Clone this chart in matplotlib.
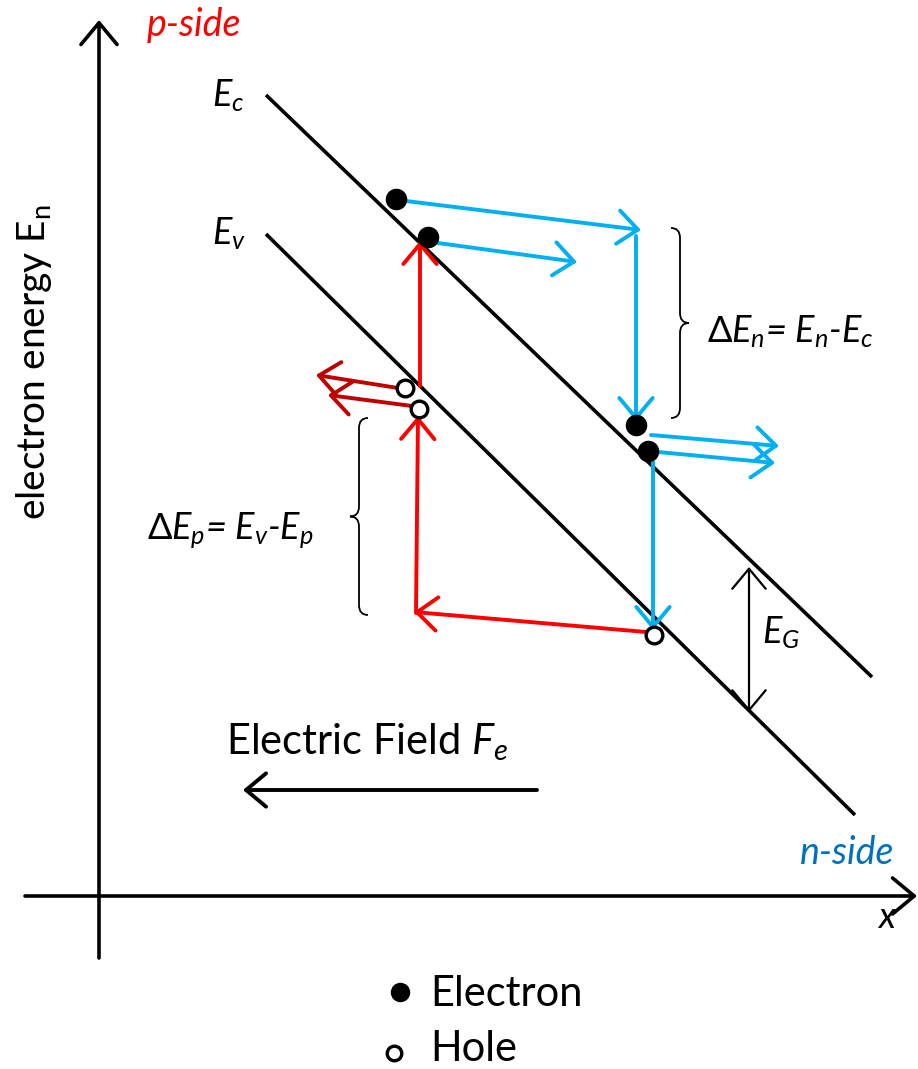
import matplotlib
matplotlib.use('Agg')
import matplotlib.pyplot as plt
from matplotlib.path import Path
from matplotlib.patches import PathPatch

# FONT SETUP
plt.rcParams['font.family'] = ['Lato', 'DejaVu Sans']
plt.rcParams['mathtext.fontset'] = 'custom'
plt.rcParams['mathtext.rm'] = 'Lato'
plt.rcParams['mathtext.it'] = 'Lato:italic'
plt.rcParams['mathtext.sf'] = 'Lato'

# DIAGRAM DATA (pixel coordinates of the band diagram)

band_names = ['Ec', 'Ev']
band_x = [[266, 872], [266, 855]]
band_y = [[95, 677], [234, 815]]

electron_x = [396, 428, 636, 648]
electron_y = [199, 237, 425, 451]
hole_x = [405, 419, 654]
hole_y = [388, 409, 635]

# arrows as (x_start, y_start, x_end, y_end)
blue_arrows = [(406, 201, 641, 230), (438, 243, 577, 262), (636, 236, 636, 421),
               (651, 435, 779, 446), (658, 452, 775, 463), (653, 462, 653, 630)]
red_arrows = [(420, 386, 420, 241), (416, 613, 418, 416), (646, 632, 414, 612)]
darkred_arrows = [(398, 388, 316, 375), (412, 406, 328, 395)]
field_arrow = (537, 790, 243, 790)
gap_arrow = (749, 567, 749, 712)
axis_arrows = [(99, 958, 99, 20), (25, 896, 917, 896)]

# braces as (x_line, y_top, y_bottom, direction)
braces = [(680, 228, 418, 1), (359, 418, 615, -1)]

BLUE = '#00B0F0'
RED = '#FF0000'
DARKRED = '#C00000'

fig = plt.figure(figsize=(9.18, 10.69), dpi=100)
ax = fig.add_axes([0, 0, 1, 1])
ax.set_xlim(0, 918)
ax.set_ylim(1069, 0)
ax.axis('off')


def arrow(a, color, lw, style='->,head_length=0.6,head_width=0.5', ms=24):
    ax.annotate('', xy=(a[2], a[3]), xytext=(a[0], a[1]),
                arrowprops=dict(arrowstyle=style, color=color, lw=lw,
                                shrinkA=0, shrinkB=0, mutation_scale=ms))


def brace(xv, y0, y1, d):
    ym = (y0 + y1) / 2
    r = 10
    c = -9 * d
    t = 9 * d
    verts = [(xv + c, y0), (xv, y0), (xv, y0 + r),
             (xv, ym - r), (xv, ym), (xv + t, ym),
             (xv, ym), (xv, ym + r),
             (xv, y1 - r), (xv, y1), (xv + c, y1)]
    codes = [Path.MOVETO, Path.CURVE3, Path.CURVE3,
             Path.LINETO, Path.CURVE3, Path.CURVE3,
             Path.CURVE3, Path.CURVE3,
             Path.LINETO, Path.CURVE3, Path.CURVE3]
    ax.add_patch(PathPatch(Path(verts, codes), fill=False, lw=1.3, color='black'))


# AXES
for a in axis_arrows:
    arrow(a, 'black', 2.6, ms=26)

# BANDS
for bx, by in zip(band_x, band_y):
    ax.plot(bx, by, color='black', lw=2.6, solid_capstyle='butt')

# ARROWS
for a in blue_arrows:
    arrow(a, BLUE, 2.8)
for a in red_arrows:
    arrow(a, RED, 2.8)
for a in darkred_arrows:
    arrow(a, DARKRED, 2.8)
arrow(field_arrow, 'black', 2.8)
arrow(gap_arrow, 'black', 1.6, style='<->,head_length=0.6,head_width=0.5')

# PARTICLES
ax.plot(electron_x, electron_y, 'o', color='black', ms=14.5, zorder=5)
ax.plot(hole_x, hole_y, 'o', mfc='white', mec='black', mew=2.4, ms=12, zorder=5)

# BRACES
for b in braces:
    brace(*b)

# TEXT
ax.text(147, 36, 'p-side', color=RED, fontsize=27, style='italic', va='baseline')
ax.text(800, 864, 'n-side', color='#0070C0', fontsize=27, style='italic', va='baseline')
ax.text(877, 928, r'$x$', fontsize=26, va='baseline')
ax.text(212, 106, r'$E_c$', fontsize=26, va='baseline')
ax.text(212, 244, r'$E_v$', fontsize=26, va='baseline')
ax.text(762, 643, r'$E_G$', fontsize=26, va='baseline')
ax.text(707, 342, r'$\Delta E_n$= $E_n$-$E_c$', fontsize=26, style='italic', va='baseline')
ax.text(147, 539, r'$\Delta E_p$= $E_v$-$E_p$', fontsize=26, style='italic', va='baseline')
ax.text(226, 754, r'Electric Field $F_e$', fontsize=30, va='baseline')
ax.text(14, 362, r'electron energy E$_\mathregular{n}$', fontsize=28, rotation=90,
        ha='left', va='center')

# LEGEND
ax.plot([400], [992], 'o', color='black', ms=13)
ax.plot([394], [1053], 'o', mfc='white', mec='black', mew=2.4, ms=10.5)
ax.text(430, 1006, 'Electron', fontsize=30, va='baseline')
ax.text(430, 1061, 'Hole', fontsize=30, va='baseline')

fig.savefig('out.png', dpi=100)
